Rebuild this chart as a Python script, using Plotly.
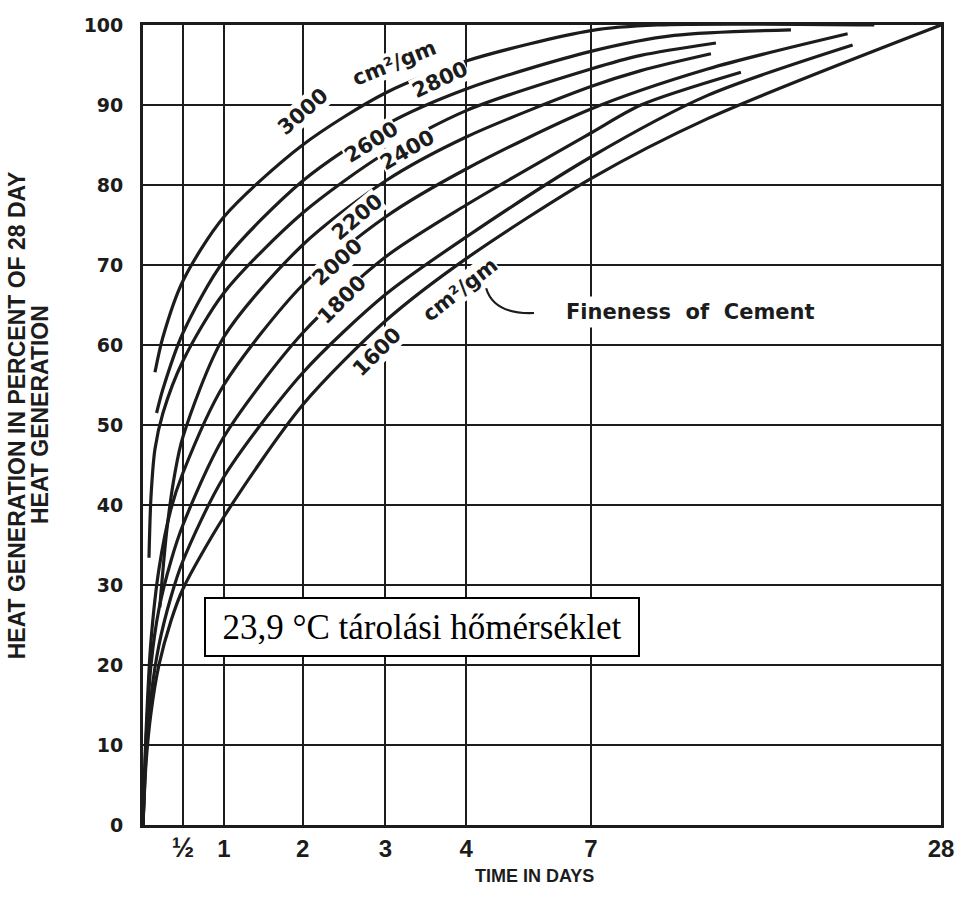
import numpy as np
import plotly.graph_objects as go

# ---- time scale (non-uniform horizontal axis) ---------------------------
# day value of each vertical grid line and its position on the axis
DAY_TICKS = [0, 0.5, 1, 2, 3, 4, 7, 28]
DAY_TICK_TEXT = ["", "<span style='font-size:27px'>½</span>", "1", "2", "3", "4", "7", "28"]
DAY_AXIS_POS = [0, 0.5, 1.0125, 2.0, 3.0375, 4.05, 5.6125, 10.0]

PCT_TICKS = list(range(0, 101, 10))
PCT_TICK_TEXT = [str(v) for v in PCT_TICKS]

# ---- heat generation curves (% of 28-day heat) by cement fineness --------
days_3000 = [0.15, 0.25, 0.5, 1, 2, 3, 4, 7, 11, 24]
pct_3000 = [56.6, 61, 68, 76, 85, 91.5, 95.5, 99.3, 100, 100]

days_2800 = [0.17, 0.25, 0.5, 1, 2, 3, 4, 7, 12, 19]
pct_2800 = [51.5, 54.5, 61.5, 70.5, 80.5, 87.5, 92, 96.7, 98.7, 99.4]

days_2600 = [0.075, 0.1, 0.15, 0.25, 0.5, 1, 2, 3, 4, 7, 10, 14.5]
pct_2600 = [33.4, 41, 47, 51.5, 58, 66.5, 76.5, 84, 89.3, 94.5, 96.2, 97.75]

days_2400 = [0.21, 0.3, 0.4, 0.5, 1, 2, 3, 4, 7, 10, 14.2]
pct_2400 = [27.2, 37, 44, 48.5, 61, 72.5, 80.5, 86, 92.3, 94.3, 96.4]

days_2200 = [0, 0.04, 0.1, 0.2, 0.35, 0.5, 1, 2, 3, 4, 7, 14, 22.4]
pct_2200 = [0, 12, 23, 32, 39.5, 44, 55, 67.5, 76, 82, 89.5, 94.5, 98.9]

days_2000 = [0, 0.04, 0.1, 0.2, 0.35, 0.5, 1, 2, 3, 4, 7, 10, 16]
pct_2000 = [0, 11, 20, 27, 33, 37.5, 48.5, 61.5, 71, 77.5, 86.5, 90, 94.1]

days_1800 = [0, 0.04, 0.1, 0.2, 0.35, 0.5, 1, 2, 3, 4, 7, 14, 22.7]
pct_1800 = [0, 9, 16, 22.5, 28.5, 33, 43.5, 56.5, 66.3, 73.5, 83.5, 91.2, 97.5]

days_1600 = [0, 0.04, 0.1, 0.2, 0.35, 0.5, 1, 2, 3, 4, 7, 14, 28]
pct_1600 = [0, 8, 14, 20, 25.5, 29.5, 38.5, 52.5, 63, 70.8, 80.8, 88.3, 100]

CURVES = [
    (days_3000, pct_3000),
    (days_2800, pct_2800),
    (days_2600, pct_2600),
    (days_2400, pct_2400),
    (days_2200, pct_2200),
    (days_2000, pct_2000),
    (days_1800, pct_1800),
    (days_1600, pct_1600),
]

# curve labels: text, day, percent, angle
LABELS = [
    ("3000", 2.0, 89.1, -41),
    ("cm²/gm", 3.11, 95.3, -22),
    ("2800", 3.67, 93.1, -25),
    ("2600", 2.83, 85.4, -32),
    ("2400", 3.27, 84.4, -30),
    ("2200", 2.66, 76.0, -40),
    ("2000", 2.42, 70.4, -42),
    ("1800", 2.47, 65.6, -45),
    ("1600", 2.9, 59.1, -45),
    ("cm²/gm", 3.92, 66.9, -38),
]

INK = "#1c1c1c"
SANS = "Liberation Sans, Arial, sans-serif"


def to_axis(days):
    """Map day values onto the chart's non-uniform time axis."""
    return np.interp(np.asarray(days, dtype=float), DAY_TICKS, DAY_AXIS_POS)


fig = go.Figure()

for days, pct in CURVES:
    fig.add_trace(go.Scatter(
        x=to_axis(days), y=pct, mode="lines",
        line=dict(color=INK, width=3.2, shape="spline", smoothing=0.8),
        hoverinfo="skip", showlegend=False,
    ))

label_font = dict(family="DejaVu Sans", size=21, color=INK, weight="bold")
for text, day, pct, ang in LABELS:
    fig.add_annotation(
        x=float(to_axis([day])[0]), y=pct, xref="x", yref="y",
        xanchor="center", yanchor="middle",
        text=text, textangle=ang, showarrow=False,
        font=label_font, bgcolor="white", borderpad=0,
    )

# callout for the fineness labels
fig.add_annotation(
    x=0.6855, y=0.641, xref="paper", yref="paper",
    xanchor="center", yanchor="middle",
    text="Fineness  of  Cement", showarrow=False,
    font=dict(family="DejaVu Sans", size=21, color=INK, weight="bold"),
    bgcolor="white", borderpad=3,
)
fig.add_shape(
    type="path", xref="paper", yref="paper",
    path="M 0.430,0.671 Q 0.440,0.638 0.490,0.640",
    line=dict(color=INK, width=2.2),
)

# storage temperature note
fig.add_annotation(
    x=0.349, y=0.2475, xref="paper", yref="paper",
    xanchor="center", yanchor="middle",
    text="23,9 °C tárolási hőmérséklet", showarrow=False,
    font=dict(family="Liberation Serif", size=35, color="black"),
    bgcolor="white", bordercolor="black", borderwidth=2,
    width=432, height=56, borderpad=0, align="center",
)

# axis titles (two-line vertical title, one annotation per line)
for text, xp in [("HEAT GENERATION IN PERCENT OF 28 DAY", -0.1575),
                 ("HEAT GENERATION", -0.129)]:
    fig.add_annotation(
        x=xp, y=0.5125, xref="paper", yref="paper",
        xanchor="center", yanchor="middle",
        text=text, textangle=-90, showarrow=False,
        font=dict(family=SANS, size=23, color=INK, weight="bold"),
    )
fig.add_annotation(
    x=0.49, y=-0.064, xref="paper", yref="paper",
    xanchor="center", yanchor="middle",
    text="TIME IN DAYS", showarrow=False,
    font=dict(family=SANS, size=18, color=INK, weight="bold"),
)

axis_common = dict(
    showgrid=True, gridcolor=INK, gridwidth=1.6,
    showline=True, mirror=True, linecolor=INK, linewidth=2.8,
    zeroline=False, ticks="",
)

fig.update_xaxes(
    range=[0, 10], tickmode="array",
    tickvals=to_axis(DAY_TICKS), ticktext=DAY_TICK_TEXT,
    tickfont=dict(family=SANS, size=24, color=INK, weight="bold"),
    ticklabelstandoff=0,
    **axis_common,
)
fig.update_yaxes(
    range=[0, 100], tickmode="array",
    tickvals=PCT_TICKS, ticktext=PCT_TICK_TEXT,
    tickfont=dict(family="DejaVu Sans", size=19, color=INK, weight="bold"),
    ticklabelstandoff=13,
    **axis_common,
)

fig.update_layout(
    width=966, height=909,
    margin=dict(l=143, r=23, t=25, b=84),
    paper_bgcolor="white", plot_bgcolor="white",
    showlegend=False,
)

fig.write_html("out.html")
